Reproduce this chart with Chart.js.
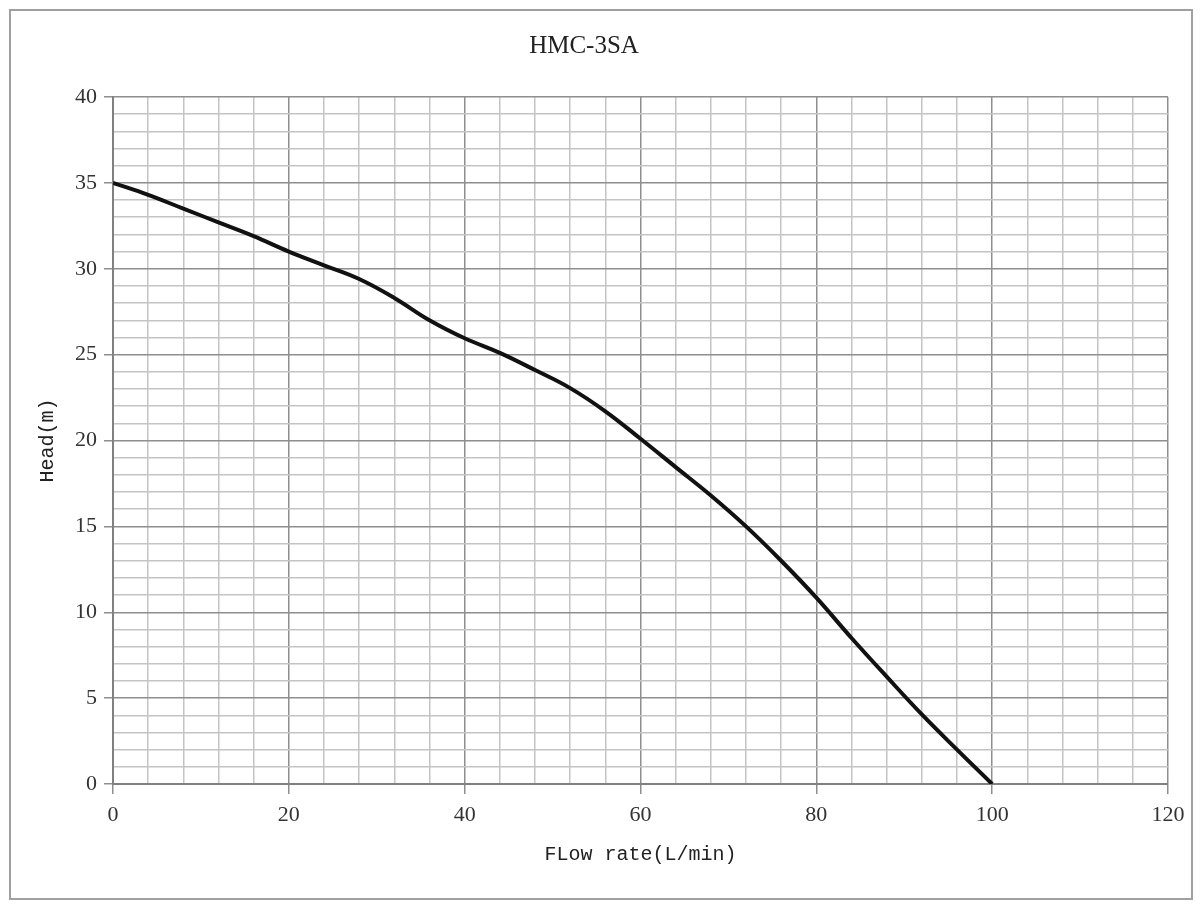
<!DOCTYPE html>
<html>
<head>
<meta charset="utf-8">
<script src="https://cdn.jsdelivr.net/npm/chart.js@4/dist/chart.umd.min.js"></script>
<style>
  html, body { margin: 0; padding: 0; background: #fff; }
  #wrap { position: relative; width: 1200px; height: 909px; }
  #frame { position: absolute; left: 9px; top: 9px; width: 1180px; height: 887px;
           border: 2px solid #a0a0a0; pointer-events: none; }
</style>
</head>
<body>
<div id="wrap">
  <canvas id="myChart"></canvas>
  <div id="frame"></div>
</div>
<script>
// pump curve
const flow = [0, 4, 8, 12, 16, 20, 24, 28, 32, 36, 40, 44, 48, 52, 56, 60, 64, 68, 72, 76, 80, 84, 88, 92, 96, 100]
const head = [35, 34.3, 33.5, 32.7, 31.9, 31.0, 30.2, 29.4, 28.3, 27.0, 25.95, 25.1, 24.1, 23.05, 21.7, 20.1, 18.45, 16.8, 15.0, 13.0, 10.85, 8.5, 6.25, 4.05, 2.0, 0]

const chartTitle = 'HMC-3SA'
const xTitle = 'FLow rate(L/min)'
const yTitle = 'Head(m)'

const majorGrid = '#8e8e8e'
const minorGrid = '#c4c4c4'

let points = []
for (let i = 0; i < flow.length; i++) {
    points.push({x: flow[i], y: head[i]})
}

const ctx = document.getElementById('myChart');

theChart = new Chart(ctx, {
    type: 'line',
    data: {
        datasets: [{
            label: yTitle,
            data: points,
            borderWidth: 4,
            borderColor: '#111',
            pointRadius: 0,
            tension: 0.4
        }]
    },
    options: {
        responsive: true,
        maintainAspectRatio: false,
        animation: false,
        layout: {
            padding: {left: 0, right: 32, top: 0, bottom: 0}
        },
        plugins: {
            legend: {display: false},
            tooltip: {enabled: false},
            title: {
                display: true,
                text: chartTitle,
                color: '#222',
                font: {family: 'Liberation Serif', size: 25, weight: 'normal'},
                padding: {top: 31, bottom: 36}
            }
        },
        scales: {
            x: {
                type: 'linear',
                min: 0,
                max: 120,
                afterFit: s => { s.height = 125 },
                ticks: {
                    stepSize: 4,
                    autoSkip: false,
                    maxRotation: 0,
                    padding: 8,
                    color: '#333',
                    font: {family: 'Liberation Serif', size: 22},
                    callback: v => (v % 20 === 0 ? String(v) : '')
                },
                grid: {
                    lineWidth: 1.5,
                    tickLength: 10,
                    color: c => (c.tick && c.tick.value % 20 === 0 ? majorGrid : minorGrid),
                    tickColor: c => (c.tick && c.tick.value % 20 === 0 ? majorGrid : 'rgba(0,0,0,0)')
                },
                border: {color: '#808080', width: 2},
                title: {
                    display: true,
                    text: xTitle,
                    color: '#222',
                    font: {family: 'Liberation Mono', size: 20},
                    padding: {top: 0, bottom: 42}
                }
            },
            y: {
                min: 0,
                max: 40,
                afterFit: s => { s.width = 113 },
                ticks: {
                    stepSize: 1,
                    autoSkip: false,
                    padding: 7,
                    color: '#333',
                    font: {family: 'Liberation Serif', size: 22},
                    callback: v => (v % 5 === 0 ? String(v) : '')
                },
                grid: {
                    lineWidth: 1.5,
                    tickLength: 9,
                    color: c => (c.tick && c.tick.value % 5 === 0 ? majorGrid : minorGrid),
                    tickColor: c => (c.tick && c.tick.value % 5 === 0 ? majorGrid : 'rgba(0,0,0,0)')
                },
                border: {color: '#808080', width: 2},
                title: {
                    display: true,
                    text: yTitle,
                    color: '#222',
                    font: {family: 'Liberation Mono', size: 20},
                    padding: {top: 36, bottom: 0}
                }
            }
        }
    }
});
</script>
</body>
</html>
